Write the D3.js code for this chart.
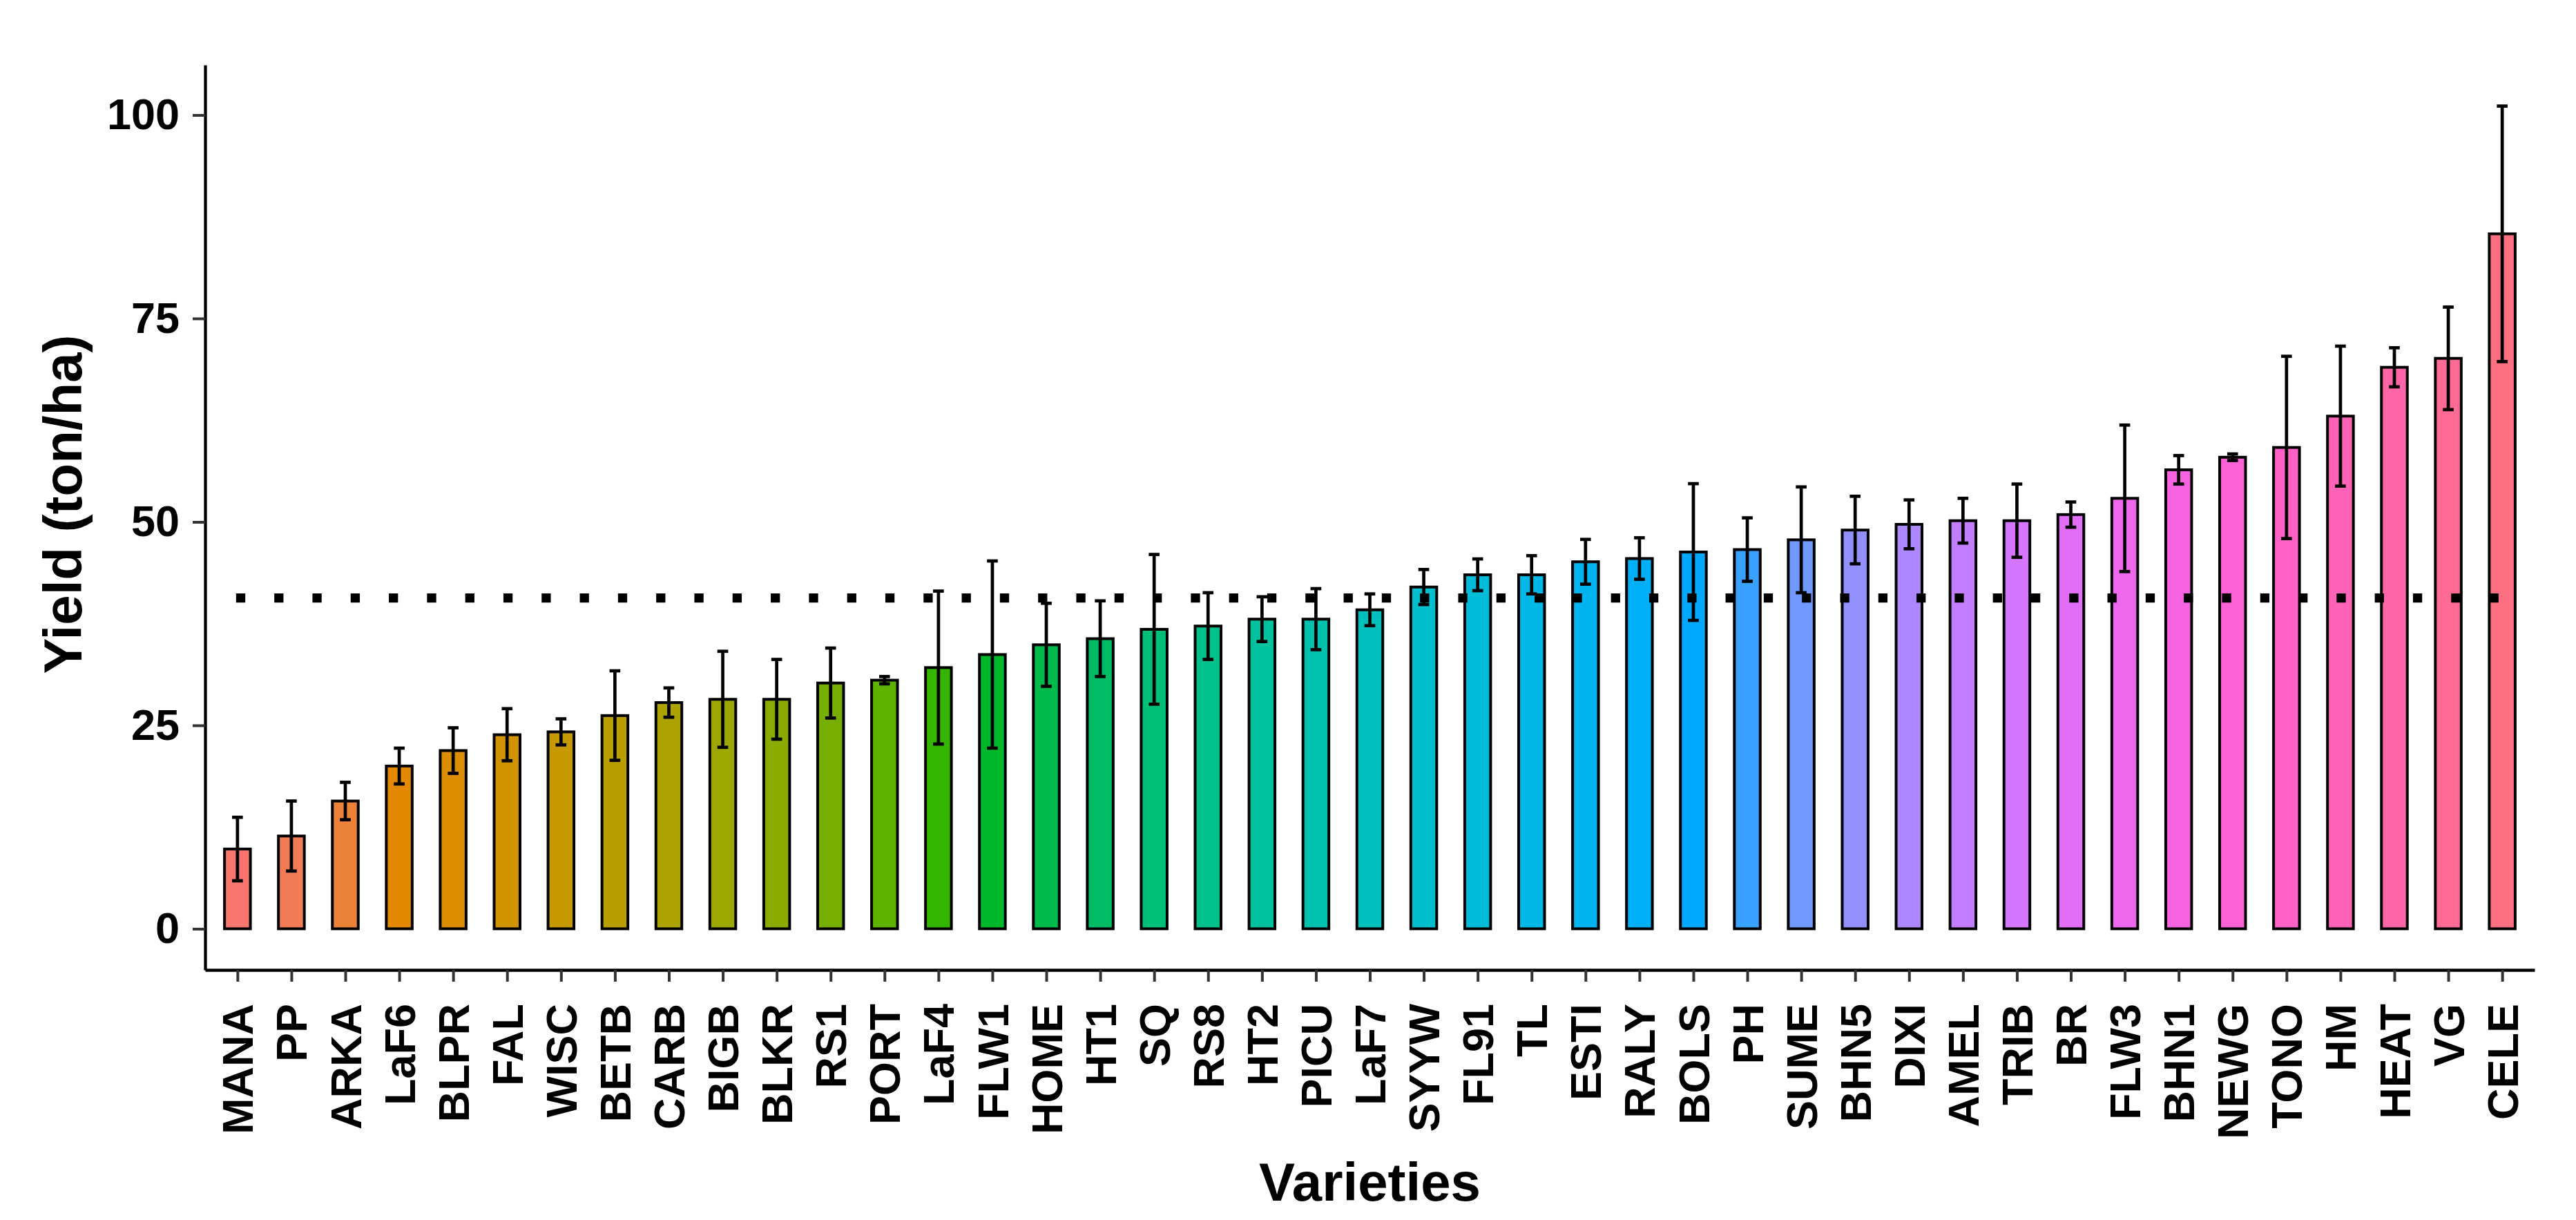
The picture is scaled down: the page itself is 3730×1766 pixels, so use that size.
<!DOCTYPE html>
<html>
<head>
<meta charset="utf-8">
<script src="https://cdn.jsdelivr.net/npm/d3@7"></script>
<style>
  body { margin: 0; background: #fff; }
  text { font-family: "Liberation Sans", Arial, sans-serif; font-weight: bold; fill: #000; }
</style>
</head>
<body>
<div id="chart"></div>
<script>
const varieties = ["MANA", "PP", "ARKA", "LaF6", "BLPR", "FAL", "WISC", "BETB", "CARB", "BIGB",
                   "BLKR", "RS1", "PORT", "LaF4", "FLW1", "HOME", "HT1", "SQ", "RS8", "HT2",
                   "PICU", "LaF7", "SYYW", "FL91", "TL", "ESTI", "RALY", "BOLS", "PH", "SUME",
                   "BHN5", "DIXI", "AMEL", "TRIB", "BR", "FLW3", "BHN1", "NEWG", "TONO", "HM",
                   "HEAT", "VG", "CELE"];

const means = [9.8, 11.4, 15.7, 20.0, 21.9, 23.85, 24.2, 26.2, 27.8, 28.2,
               28.2, 30.2, 30.55, 32.1, 33.7, 34.9, 35.65, 36.8, 37.2, 38.05,
               38.05, 39.2, 42.0, 43.5, 43.5, 45.1, 45.5, 46.3, 46.6, 47.8,
               49.0, 49.7, 50.15, 50.15, 50.9, 52.9, 56.4, 57.95, 59.15, 63.0,
               69.0, 70.1, 85.4];

const errors = [3.9, 4.3, 2.3, 2.2, 2.8, 3.2, 1.6, 5.5, 1.8, 5.9,
                4.9, 4.3, 0.45, 9.4, 11.5, 5.1, 4.65, 9.2, 4.1, 2.75,
                3.75, 1.95, 2.15, 1.95, 2.35, 2.75, 2.55, 8.4, 3.9, 6.5,
                4.15, 3.0, 2.75, 4.5, 1.55, 9.0, 1.75, 0.4, 11.2, 8.6,
                2.4, 6.3, 15.7];

const yTicks = [0, 25, 50, 75, 100];

const width = 3730;
const height = 1766;
const marginLeft = 297;
const marginRight = 60;
const marginTop = 94;
const marginBottom = 362;

const data = varieties.map((v, i) => ({ variety: v, mean: means[i], se: errors[i] }));
const grandMean = d3.mean(means);

// R's hcl() (polar LUV) so the fills match ggplot's default hue palette
function hclR(h, c, l) {
  const hr = h * Math.PI / 180;
  const U = c * Math.cos(hr), V = c * Math.sin(hr);
  const Y = (l > 7.999592) ? Math.pow((l + 16) / 116, 3) : l / 903.3;
  const u = U / (13 * l) + 0.1978398;
  const v = V / (13 * l) + 0.4683363;
  const X = 9.0 * Y * u / (4 * v);
  const Z = -X / 3 - 5 * Y + 3 * Y / v;
  const g = a => {
    a = a > 0.00304 ? 1.055 * Math.pow(a, 1 / 2.4) - 0.055 : 12.92 * a;
    return Math.round(Math.max(0, Math.min(1, a)) * 255);
  };
  return d3.rgb(g(3.240479 * X - 1.537150 * Y - 0.498535 * Z),
                g(-0.969256 * X + 1.875992 * Y + 0.041556 * Z),
                g(0.055648 * X - 0.204043 * Y + 1.057311 * Z)).formatHex();
}

const hues = d3.range(varieties.length).map(i => 15 + 360 * i / varieties.length);
const color = d3.scaleOrdinal()
                .domain(varieties)
                .range(hues.map(h => hclR(h, 100, 65)));

const xScale = d3.scalePoint()
                 .domain(varieties)
                 .range([marginLeft, width - marginRight])
                 .padding(0.6);

const yMax = d3.max(data, d => d.mean + d.se);
const yScale = d3.scaleLinear()
                 .domain([-yMax * 0.05, yMax * 1.05])
                 .range([height - marginBottom, marginTop]);

const step = xScale.step();
const barWidth = step * 0.48;
const capWidth = step * 0.2;

const svg = d3.create("svg")
              .attr("width", width)
              .attr("height", height)
              .attr("viewBox", `0 0 ${width} ${height}`);

svg.append("rect")
   .attr("width", width)
   .attr("height", height)
   .attr("fill", "#fff");

// bars
svg.append("g")
   .selectAll("rect")
   .data(data)
   .join("rect")
   .attr("x", d => xScale(d.variety) - barWidth / 2)
   .attr("y", d => yScale(d.mean))
   .attr("width", barWidth)
   .attr("height", d => yScale(0) - yScale(d.mean))
   .attr("fill", d => color(d.variety))
   .attr("stroke", "#000")
   .attr("stroke-width", 4);

// error bars
const err = svg.append("g")
               .attr("stroke", "#000")
               .attr("stroke-width", 4.7)
               .selectAll("g")
               .data(data)
               .join("g");

err.append("line")
   .attr("x1", d => xScale(d.variety))
   .attr("x2", d => xScale(d.variety))
   .attr("y1", d => yScale(d.mean - d.se))
   .attr("y2", d => yScale(d.mean + d.se));

err.append("line")
   .attr("x1", d => xScale(d.variety) - capWidth / 2)
   .attr("x2", d => xScale(d.variety) + capWidth / 2)
   .attr("y1", d => yScale(d.mean + d.se))
   .attr("y2", d => yScale(d.mean + d.se));

err.append("line")
   .attr("x1", d => xScale(d.variety) - capWidth / 2)
   .attr("x2", d => xScale(d.variety) + capWidth / 2)
   .attr("y1", d => yScale(d.mean - d.se))
   .attr("y2", d => yScale(d.mean - d.se));

// dotted mean line
svg.append("line")
   .attr("x1", xScale(varieties[0]) - 2)
   .attr("x2", xScale(varieties[varieties.length - 1]))
   .attr("y1", yScale(grandMean))
   .attr("y2", yScale(grandMean))
   .attr("stroke", "#000")
   .attr("stroke-width", 13.3)
   .attr("stroke-dasharray", "13.3 42");

// axes
const xAxis = d3.axisBottom(xScale)
                .tickSize(17)
                .tickSizeOuter(0);

const yAxis = d3.axisLeft(yScale)
                .tickValues(yTicks)
                .tickSize(18)
                .tickSizeOuter(0)
                .tickPadding(19);

const gx = svg.append("g")
              .attr("transform", `translate(0, ${height - marginBottom})`)
              .call(xAxis);

const gy = svg.append("g")
              .attr("transform", `translate(${marginLeft}, 0)`)
              .call(yAxis);

[gx, gy].forEach(g => {
  g.select(".domain").attr("stroke", "#000").attr("stroke-width", 4.3);
  g.selectAll(".tick line").attr("stroke", "#333").attr("stroke-width", 4);
  g.selectAll(".tick text").attr("font-size", 63).attr("fill", "#000")
   .attr("font-family", "Liberation Sans, Arial, sans-serif").attr("font-weight", "bold");
});

gx.selectAll(".tick text")
  .attr("transform", "rotate(-90)")
  .attr("text-anchor", "end")
  .attr("x", -49)
  .attr("y", 0)
  .attr("dy", "0.35em");

// axis titles
svg.append("text")
   .attr("x", (marginLeft + width - marginRight) / 2)
   .attr("y", 1738)
   .attr("text-anchor", "middle")
   .attr("font-size", 78)
   .text("Varieties");

svg.append("text")
   .attr("transform", `translate(118, 730) rotate(-90)`)
   .attr("text-anchor", "middle")
   .attr("font-size", 78)
   .text("Yield (ton/ha)");

document.getElementById("chart").append(svg.node());
</script>
</body>
</html>
